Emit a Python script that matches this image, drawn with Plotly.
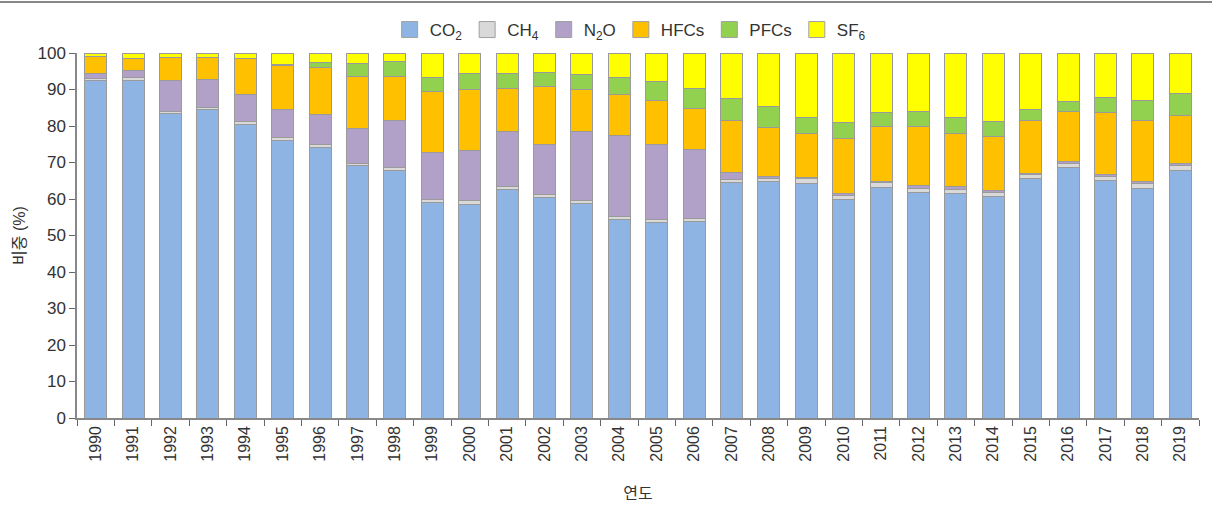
import plotly.graph_objects as go

years = [str(y) for y in range(1990, 2020)]
co2 = [92.5, 92.6, 83.4, 84.4, 80.5, 76.1, 74.0, 69.1, 67.7, 59.1,
       58.5, 62.5, 60.3, 58.9, 54.4, 53.6, 53.8, 64.4, 64.7, 64.3,
       60.0, 63.2, 61.9, 61.6, 60.7, 65.5, 68.6, 65.1, 63.0, 67.9]
ch4 = [0.6, 0.7, 0.7, 0.8, 0.7, 0.7, 0.8, 0.7, 1.0, 0.8,
       1.0, 0.9, 0.8, 0.8, 0.8, 0.8, 0.8, 0.9, 0.8, 1.2,
       0.9, 1.3, 1.0, 1.1, 1.0, 1.1, 1.2, 1.1, 1.3, 1.2]
n2o = [1.2, 2.0, 8.4, 7.6, 7.5, 7.8, 8.4, 9.4, 12.8, 12.9,
       13.8, 15.1, 13.7, 18.8, 22.3, 20.6, 19.0, 1.9, 0.6, 0.3,
       0.5, 0.4, 0.9, 0.7, 0.6, 0.4, 0.5, 0.6, 0.5, 0.7]
hfcs = [4.8, 3.2, 6.3, 6.1, 9.8, 11.9, 12.9, 14.3, 12.0, 16.6,
        16.7, 11.8, 16.0, 11.5, 11.0, 11.9, 11.2, 14.4, 13.6, 12.1,
        15.1, 14.9, 16.1, 14.6, 14.9, 14.5, 13.7, 17.0, 16.6, 13.0]
pfcs = [0.0, 0.0, 0.0, 0.0, 0.0, 0.3, 1.3, 3.5, 4.1, 3.9,
        4.4, 4.1, 3.8, 4.1, 4.8, 5.2, 5.5, 5.8, 5.6, 4.5,
        4.4, 4.0, 4.0, 4.4, 4.1, 2.9, 2.8, 3.9, 5.6, 6.1]
sf6 = [0.9, 1.5, 1.2, 1.1, 1.5, 3.2, 2.6, 3.0, 2.4, 6.7,
       5.6, 5.6, 5.4, 5.9, 6.7, 7.9, 9.7, 12.6, 14.7, 17.6,
       19.1, 16.2, 16.1, 17.6, 18.7, 15.6, 13.2, 12.3, 13.0, 11.1]

series = [
    ("CO<sub>2</sub>", co2, "#8DB4E2"),
    ("CH<sub>4</sub>", ch4, "#D9D9D9"),
    ("N<sub>2</sub>O", n2o, "#B1A0C7"),
    ("HFCs", hfcs, "#FFC000"),
    ("PFCs", pfcs, "#92D050"),
    ("SF<sub>6</sub>", sf6, "#FFFF00"),
]

FONT = "Liberation Sans, Arial, Noto Sans CJK KR, sans-serif"
TXT = "#333333"

fig = go.Figure()
for name, vals, col in series:
    fig.add_trace(go.Bar(
        x=years, y=vals, name=name, showlegend=False,
        marker=dict(color=col, line=dict(color="#9a9a9a", width=1)),
    ))
# legend entries with larger swatches
for name, vals, col in series:
    fig.add_trace(go.Scatter(
        x=[None], y=[None], mode="markers", name=name,
        marker=dict(symbol="square", size=17, color=col,
                    line=dict(color="#a0a0a0", width=1)),
    ))

fig.update_layout(
    barmode="stack",
    bargap=0.41,
    width=1212, height=528,
    margin=dict(l=77, r=13, t=53, b=110),
    plot_bgcolor="white", paper_bgcolor="white",
    font=dict(family=FONT, size=16, color=TXT),
    legend=dict(orientation="h", x=0.493, xanchor="center", y=1.063, yanchor="middle",
                font=dict(size=17, color=TXT), traceorder="normal",
                itemsizing="trace", itemwidth=30),
    xaxis=dict(
        type="category", tickangle=-90, tickson="boundaries",
        ticks="outside", ticklen=6, tickcolor="#666666",
        showline=True, linecolor="#888888", linewidth=1.5,
        tickfont=dict(size=16, color=TXT),
        title=dict(text="연도", font=dict(size=16, color=TXT), standoff=27),
    ),
    yaxis=dict(
        range=[0, 100], dtick=10, ticks="outside", ticklen=6, tickcolor="#666666",
        showline=True, linecolor="#888888", linewidth=1.5, showgrid=False, zeroline=False,
        tickfont=dict(size=17, color=TXT),
        title=dict(text="비중 (%)", font=dict(size=16, color=TXT), standoff=8),
    ),
)

post = (
    "document.body.style.margin='0';"
    "var d=document.createElement('div');"
    "d.style.cssText='position:absolute;left:0;top:1px;width:1212px;height:1.5px;"
    "background:#888888;z-index:10;pointer-events:none';"
    "document.body.appendChild(d);"
)
fig.write_html("out.html", config={"displayModeBar": False}, post_script=post)
